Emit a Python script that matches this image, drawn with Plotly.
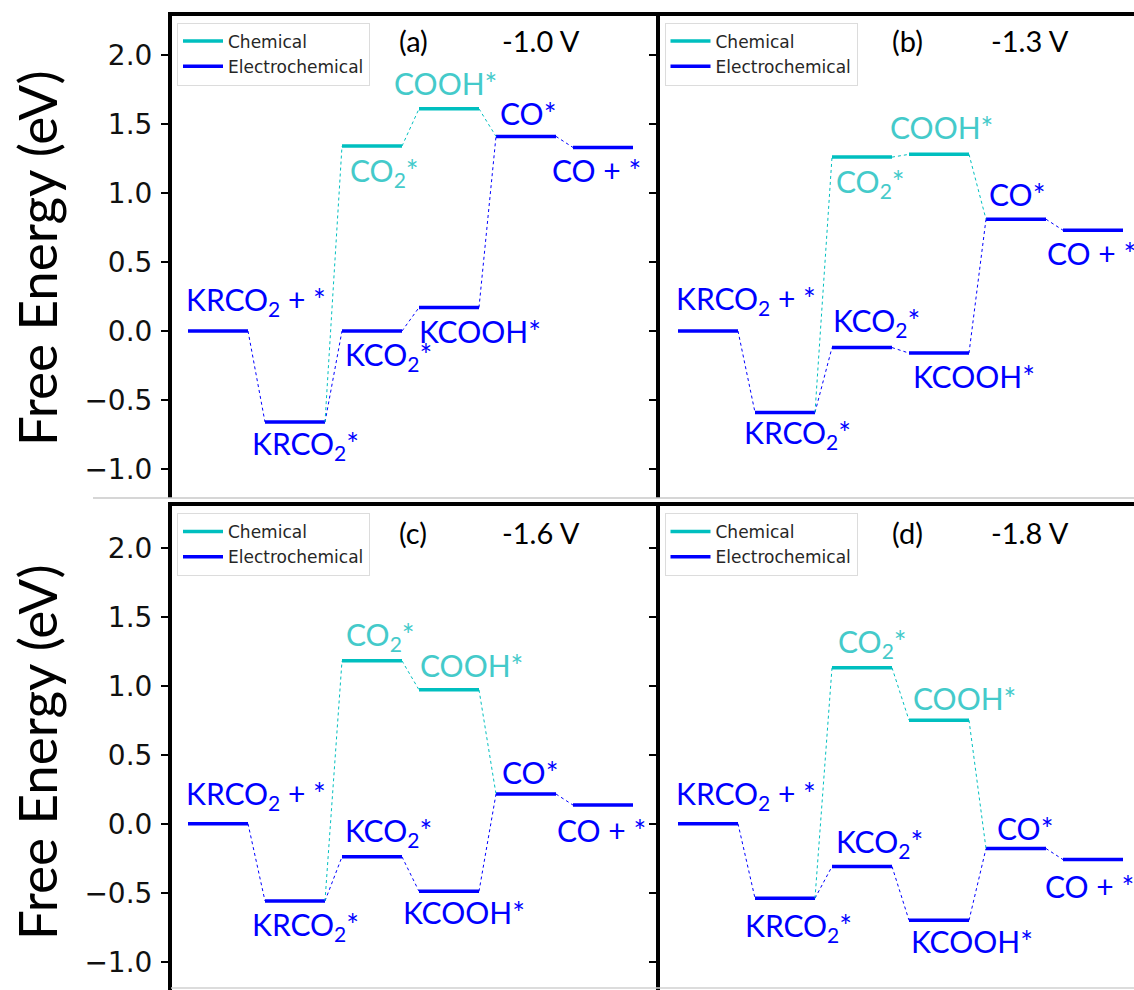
import plotly.graph_objects as go

W, H = 1134, 990

# ---------------- data ----------------
steps = ["KRCO<sub>2</sub> + *", "KRCO<sub>2</sub>*", "KCO<sub>2</sub>*", "KCOOH*", "CO*", "CO + *"]
chem_steps = ["CO<sub>2</sub>*", "COOH*"]
panel_tags = ["(a)", "(b)", "(c)", "(d)"]
potentials = ["-1.0 V", "-1.3 V", "-1.6 V", "-1.8 V"]

# electrochemical path energies (eV) for the 6 steps
electro_a = [0.0, -0.66, 0.0, 0.17, 1.41, 1.33]
electro_b = [0.0, -0.59, -0.12, -0.16, 0.81, 0.73]
electro_c = [0.0, -0.56, -0.24, -0.49, 0.215, 0.135]
electro_d = [0.0, -0.54, -0.31, -0.70, -0.18, -0.26]
# chemical path energies (eV): CO2*, COOH*
chem_a = [1.34, 1.61]
chem_b = [1.26, 1.28]
chem_c = [1.18, 0.97]
chem_d = [1.13, 0.75]

electro = [electro_a, electro_b, electro_c, electro_d]
chem = [chem_a, chem_b, chem_c, chem_d]
y_ticks = [-1.0, -0.5, 0.0, 0.5, 1.0, 1.5, 2.0]

# ---------------- layout geometry (pixels) ----------------
col_px = [(172, 656, 188), (659.5, 1134, 678)]   # left, right, x of first level
row_px = [(15.5, 498, 331.0), (506, 990, 823.7)]  # top, bottom, y of zero
UX = 77.0    # px per step
UY = 138.0   # px per eV
LW = 60.0 / UX  # level width

BLUE = "#0000FF"
CYAN = "#00BFBF"
CYAN_TXT = "#44CACA"
LABEL_FONT = "Lato"
LSIZE = 30

# label offsets per panel: (dx px from level centre, dy px downward)
# order: 6 electro steps then 2 chemical steps
label_off = [
    [(38, -30), (10, 23), (16, 25), (31, 23), (2, -23), (-7, 23), (12, 26), (-4, -26)],
    [(38, -31), (12, 22), (14, -26), (35, 23), (1, -25), (-2, 23), (8, 26), (2, -27)],
    [(38, -29), (10, 25), (16, -25), (15, 21), (4, -22), (-2, 25), (8, -25), (22, -25)],
    [(38, -29), (13, 29), (17, -23), (33, 21), (9, -21), (-4, 26), (10, -25), (25, -22)],
]

fig = go.Figure()
annotations = []
shapes = []

for k in range(4):
    r, c = divmod(k, 2)
    left, right, x0 = col_px[c]
    top, bottom, y0 = row_px[r]
    ax = "" if k == 0 else str(k + 1)
    xa, ya = "x" + ax, "y" + ax
    leg = "legend" + ax

    e = electro[k]
    ch = chem[k]

    # chemical levels (steps 2 and 3)
    cx, cy = [], []
    for j, v in enumerate(ch):
        i = j + 2
        cx += [i, i + LW, None]
        cy += [v, v, None]
    fig.add_trace(go.Scatter(x=cx, y=cy, mode="lines", name="Chemical",
                             line=dict(color=CYAN, width=3.5), xaxis=xa, yaxis=ya,
                             legend=leg, hoverinfo="skip"))
    ex, ey = [], []
    for i, v in enumerate(e):
        ex += [i, i + LW, None]
        ey += [v, v, None]
    fig.add_trace(go.Scatter(x=ex, y=ey, mode="lines", name="Electrochemical",
                             line=dict(color=BLUE, width=3.5), xaxis=xa, yaxis=ya,
                             legend=leg, hoverinfo="skip"))
    # connectors electrochemical
    kx, ky = [], []
    for i in range(len(e) - 1):
        kx += [i + LW, i + 1, None]
        ky += [e[i], e[i + 1], None]
    fig.add_trace(go.Scatter(x=kx, y=ky, mode="lines", showlegend=False,
                             line=dict(color=BLUE, width=1, dash="dot"),
                             xaxis=xa, yaxis=ya, hoverinfo="skip"))
    # connectors chemical
    path = [e[1], ch[0], ch[1], e[4]]
    qx, qy = [], []
    for j in range(3):
        qx += [1 + j + LW, 2 + j, None]
        qy += [path[j], path[j + 1], None]
    fig.add_trace(go.Scatter(x=qx, y=qy, mode="lines", showlegend=False,
                             line=dict(color=CYAN, width=1, dash="dot"),
                             xaxis=xa, yaxis=ya, hoverinfo="skip"))

    # axes
    xdom = [left / W, right / W]
    ydom = [1 - bottom / H, 1 - top / H]
    fig.update_layout(**{
        "xaxis" + ax: dict(domain=xdom, anchor=ya, side="top",
                           range=[(left - x0) / UX, (right - x0) / UX],
                           showline=True, linewidth=4, linecolor="black",
                           showgrid=False, zeroline=False, ticks="",
                           showticklabels=False, fixedrange=True),
        "yaxis" + ax: dict(domain=ydom, anchor=xa,
                           range=[(y0 - bottom) / UY, (y0 - top) / UY],
                           showline=True, linewidth=4, linecolor="black",
                           showgrid=False, zeroline=False,
                           ticks="outside", ticklen=7, tickwidth=1.6, tickcolor="black",
                           tickvals=y_ticks, tickformat=".1f",
                           showticklabels=(c == 0), ticklabelstandoff=3,
                           tickfont=dict(family="DejaVu Sans", size=28, color="#111111"),
                           fixedrange=True),
        leg: dict(x=(left + 5) / W, y=1 - (top + 7) / H, xanchor="left", yanchor="top",
                  bgcolor="white", bordercolor="#dcdcdc", borderwidth=1,
                  font=dict(family="DejaVu Sans", size=17, color="#262626"),
                  tracegroupgap=0, itemwidth=40),
    })

    # step labels
    for i in range(6):
        dx, dy = label_off[k][i]
        annotations.append(dict(x=i + LW / 2 + dx / UX, y=e[i], xref=xa, yref=ya,
                                text=steps[i], showarrow=False, yshift=-dy,
                                xanchor="center", yanchor="middle",
                                font=dict(family=LABEL_FONT, size=LSIZE, color=BLUE)))
    for j in range(2):
        dx, dy = label_off[k][6 + j]
        annotations.append(dict(x=j + 2 + LW / 2 + dx / UX, y=ch[j], xref=xa, yref=ya,
                                text=chem_steps[j], showarrow=False, yshift=-dy,
                                xanchor="center", yanchor="middle",
                                font=dict(family=LABEL_FONT, size=LSIZE, color=CYAN_TXT)))

    # panel tag and potential
    hx = [413, 907][c]
    vx = [541, 1030][c]
    hy = [40, 532][r]
    annotations.append(dict(x=hx / W, y=1 - hy / H, xref="paper", yref="paper",
                            text=panel_tags[k], showarrow=False, xanchor="center",
                            yanchor="middle", font=dict(family=LABEL_FONT, size=29, color="black")))
    annotations.append(dict(x=vx / W, y=1 - hy / H, xref="paper", yref="paper",
                            text=potentials[k], showarrow=False, xanchor="center",
                            yanchor="middle", font=dict(family=LABEL_FONT, size=29, color="black")))

# y axis titles
for cy_px in (258, 752):
    annotations.append(dict(x=36 / W, y=1 - cy_px / H, xref="paper", yref="paper",
                            text="Free Energy (eV)", textangle=-90, showarrow=False,
                            xanchor="center", yanchor="middle",
                            font=dict(family=LABEL_FONT, size=53, color="black")))

# faint image-edge lines
shapes.append(dict(type="line", xref="paper", yref="paper", x0=93 / W, x1=1,
                   y0=1 - 498 / H, y1=1 - 498 / H, line=dict(color="#c8c8c8", width=1.5)))
shapes.append(dict(type="line", xref="paper", yref="paper", x0=171 / W, x1=1,
                   y0=1 - 988 / H, y1=1 - 988 / H, line=dict(color="#d0d0d0", width=1.5)))

fig.update_layout(width=W, height=H, margin=dict(l=0, r=0, t=0, b=0),
                  paper_bgcolor="white", plot_bgcolor="white",
                  annotations=annotations, shapes=shapes)

fig.write_html("out.html")
